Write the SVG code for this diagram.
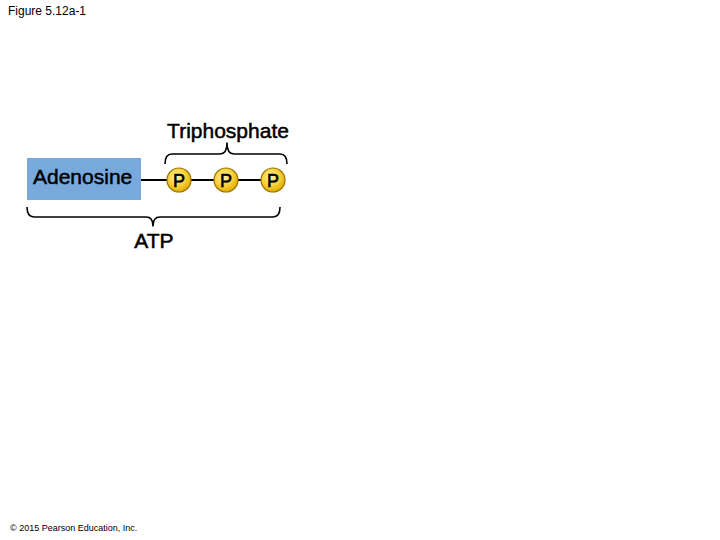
<svg xmlns="http://www.w3.org/2000/svg" width="720" height="540" viewBox="0 0 720 540">
<defs>
<radialGradient id="pg" cx="0.42" cy="0.38" r="0.65">
<stop offset="0" stop-color="#fff3a8"/>
<stop offset="0.55" stop-color="#f9d23a"/>
<stop offset="1" stop-color="#e0a800"/>
</radialGradient>
<style>
.t{font-family:"Liberation Sans",Arial,sans-serif;fill:#000}
.s{stroke:#000;stroke-width:0.5}
.brace{fill:none;stroke:#000;stroke-width:1.6;stroke-linejoin:round}
.bond{stroke:#000;stroke-width:2}
.pc{fill:url(#pg);stroke:#9a7400;stroke-width:1.2}
.pt{font-family:"Liberation Sans",Arial,sans-serif;font-size:18px;text-anchor:middle;fill:#000;stroke:#000;stroke-width:0.6}
</style>
</defs>
<rect width="720" height="540" fill="#fff"/>
<text class="t" x="8" y="15" font-size="12">Figure 5.12a-1</text>
<g id="connectors">
<line class="bond" x1="141" y1="180" x2="167" y2="180"/>
<line class="bond" x1="191" y1="180" x2="214" y2="180"/>
<line class="bond" x1="238" y1="180" x2="261" y2="180"/>
</g>
<g id="adenosine">
<rect x="27" y="158" width="114" height="42" fill="#78a9dc"/>
<text class="t s" x="33" y="184" font-size="21">Adenosine</text>
</g>
<g id="p1">
<circle class="pc" cx="179" cy="180" r="12"/>
<text class="pt" x="179" y="187">P</text>
</g>
<g id="p2">
<circle class="pc" cx="226" cy="180" r="12"/>
<text class="pt" x="226" y="187">P</text>
</g>
<g id="p3">
<circle class="pc" cx="273" cy="180" r="12"/>
<text class="pt" x="273" y="187">P</text>
</g>
<g id="triphosphate">
<path class="brace" d="M165,164 Q165,154 172,154 L220,154 Q227,154 227,143 Q227,154 234,154 L280,154 Q287,154 287,164"/>
<text class="t s" x="228" y="138" font-size="21" text-anchor="middle">Triphosphate</text>
</g>
<g id="atp">
<path class="brace" d="M27,207 Q27,217 34,217 L146,217 Q153,217 153,226 Q153,217 160,217 L273,217 Q280,217 280,207"/>
<text class="t s" x="154" y="248" font-size="21" text-anchor="middle">ATP</text>
</g>
<text class="t" x="10" y="531" font-size="9">© 2015 Pearson Education, Inc.</text>
</svg>
